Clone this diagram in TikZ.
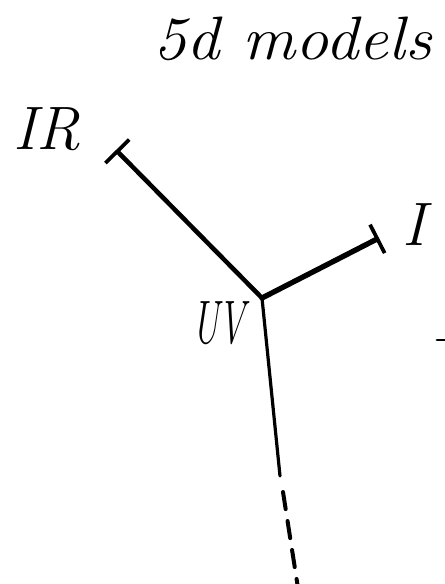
\documentclass[tikz,border=0pt]{standalone}
\usepackage{graphicx}
\usetikzlibrary{arrows.meta}
\begin{document}
\begin{tikzpicture}[x=0.75pt,y=-0.75pt,line cap=round,every node/.style={font=\itshape\fontsize{46}{46}\selectfont,inner sep=0pt}]
\useasboundingbox (0,0) rectangle (445,584);
\coordinate (UV) at (262,298);
\coordinate (IRl) at (116,150);
\coordinate (IRr) at (379,238);
\coordinate (C) at (280,476);
\coordinate (D) at (283,492);
\coordinate (B) at (298,588);
\draw[line width=3.4pt,-{Bar[width=25pt,line width=2.8pt]}] (UV) -- (IRl);
\draw[line width=4pt,-{Bar[width=24pt,line width=2.8pt]}] (UV) -- (IRr);
\draw[line width=2.4pt] (UV) -- (C);
\draw[line width=3pt,dash pattern=on 13pt off 9pt] (D) -- (B);
\draw[line width=2.2pt] (437,340) -- (446,340);
\node[anchor=base west] (title) at (153,60) {\scalebox{1.08}[1]{5d models}};
\node[anchor=base west] (irlabel) at (13,150) {IR};
\node[anchor=base west] (ilabel) at (402,246) {I};
\node[anchor=base east] (uvlabel) at (246,343) {\scalebox{0.6}[1]{UV}};
\end{tikzpicture}
\end{document}
